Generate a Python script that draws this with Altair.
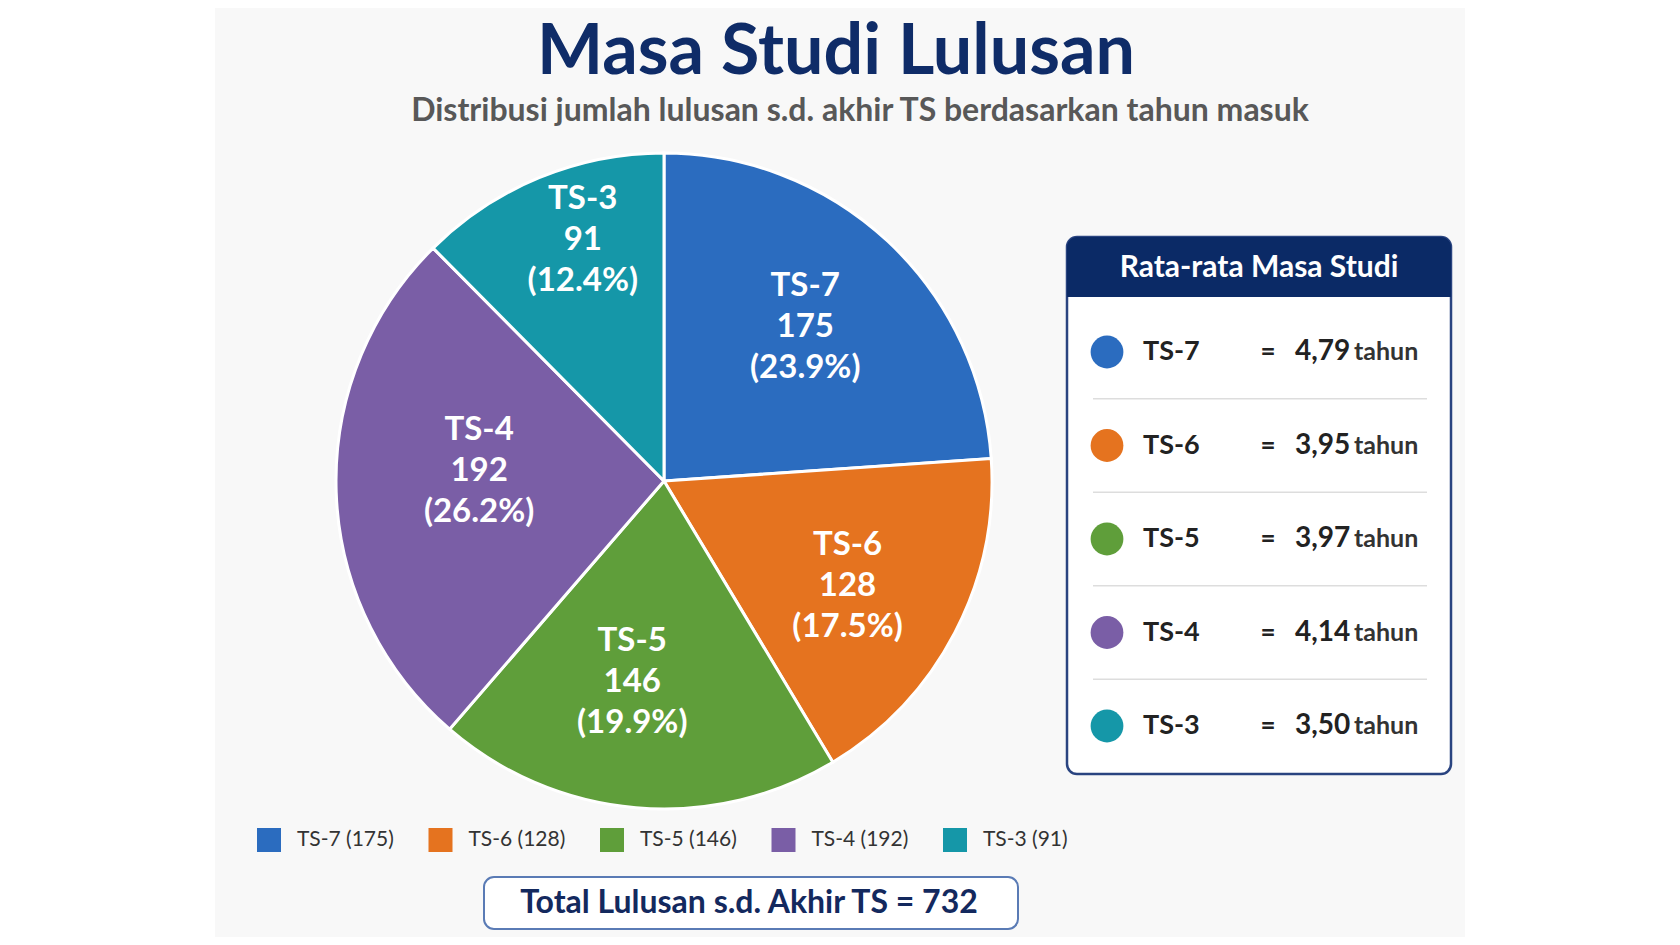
import altair as alt
import pandas as pd

# ---- data ----
cats = ["TS-7", "TS-6", "TS-5", "TS-4", "TS-3"]
counts = [175, 128, 146, 192, 91]
avg_years = [4.79, 3.95, 3.97, 4.14, 3.50]
colors = ["#2b6cbf", "#e5731f", "#5f9e3a", "#7a5ea6", "#1597a8"]

title_txt = "Masa Studi Lulusan"
subtitle_txt = "Distribusi jumlah lulusan s.d. akhir TS berdasarkan tahun masuk"
table_title = "Rata-rata Masa Studi"
unit_txt = "tahun"

total = sum(counts)
df = pd.DataFrame({
    "cat": cats,
    "n": counts,
    "idx": list(range(len(cats))),
    "avg": [f"{v:.2f}".replace(".", ",") for v in avg_years],
})
df["pct"] = [f"({100 * c / total:.1f}%)" for c in counts]
df["lbl"] = df["cat"] + "\n" + df["n"].astype(str) + "\n" + df["pct"]
df["leg"] = df["cat"] + " (" + df["n"].astype(str) + ")"
df["last"] = df["idx"] == len(cats) - 1

one = pd.DataFrame({"k": [0]})

W, H = 1664, 929
FONT = "Lato"
NAVY = "#0f2c68"

color = alt.Color("cat:N", scale=alt.Scale(domain=cats, range=colors), legend=None)
ypos = alt.Y("cat:N", scale=alt.Scale(type="point", domain=cats, range=[344, 718], padding=0), axis=None)
xpos = alt.X("cat:N", scale=alt.Scale(type="point", domain=cats, range=[261, 947], padding=0), axis=None)

base = alt.Chart(df)
deco = alt.Chart(one)

panel = deco.mark_rect(color="#f8f8f8").encode(
    x=alt.value(207), x2=alt.value(1457), y=alt.value(0), y2=alt.value(H))

title = deco.mark_text(text=title_txt, font=FONT, fontSize=70, fontWeight="bold",
                       color=NAVY, align="center", baseline="alphabetic").encode(
    x=alt.value(828), y=alt.value(66))
subtitle = deco.mark_text(text=subtitle_txt, font=FONT, fontSize=32, fontWeight="bold",
                          color="#585858", align="center", baseline="alphabetic").encode(
    x=alt.value(852), y=alt.value(113))

CX, CY = 656, 473
theta = alt.Theta("n:Q", stack=True)
order = alt.Order("idx:Q")
pie = base.mark_arc(outerRadius=328, stroke="white", strokeWidth=3).encode(
    theta=theta, color=color, order=order, x=alt.value(CX), y=alt.value(CY))

# label placement style per slice: (radius, dx, dy); the block is lifted one line
LINE = 41
label_place = {
    "TS-7": (207, 0, -3),
    "TS-6": (207, 0, 9),
    "TS-5": (207, -14, -5),
    "TS-4": (207, 22, -17),
    "TS-3": (258, 17, -2),
}
txt_style = dict(font=FONT, fontSize=33, fontWeight="bold", color="white",
                 lineBreak="\n", lineHeight=LINE, align="center", baseline="middle")
pie_txts = []
for c in cats:
    r, ddx, ddy = label_place[c]
    pie_txts.append(
        base.mark_text(radius=r, dx=ddx, dy=ddy - LINE, **txt_style).encode(
            theta=theta, order=order, text="lbl:N", x=alt.value(CX), y=alt.value(CY),
            opacity=alt.condition(f"datum.cat == '{c}'", alt.value(1), alt.value(0)))
    )

# ---- right table ----
BX0, BX1, BY0, BY1 = 1059, 1443, 229, 766
box = deco.mark_rect(fill="white", stroke="#2a4480", strokeWidth=2.5, cornerRadius=10).encode(
    x=alt.value(BX0), x2=alt.value(BX1), y=alt.value(BY0), y2=alt.value(BY1))
header = deco.mark_rect(fill="#0b2a66", cornerRadiusTopLeft=10, cornerRadiusTopRight=10).encode(
    x=alt.value(BX0), x2=alt.value(BX1), y=alt.value(BY0), y2=alt.value(289))
header_txt = deco.mark_text(text=table_title, font=FONT, fontSize=30, fontWeight="bold",
                            color="white", align="center", baseline="middle").encode(
    x=alt.value(1251), y=alt.value(260))

seps = base.transform_filter("!datum.last").mark_rule(
    color="#dddddd", strokeWidth=1.5, yOffset=46.75).encode(
    x=alt.value(1085), x2=alt.value(1419), y=ypos)
dots = base.mark_circle(size=1075, opacity=1).encode(x=alt.value(1099), y=ypos, color=color)
row_lbl = base.mark_text(font=FONT, fontSize=27, fontWeight="bold", color="#222222",
                         align="left", baseline="middle").encode(
    x=alt.value(1135), y=ypos, text="cat:N")
row_eq = base.mark_text(text="=", font=FONT, fontSize=26, fontWeight="bold", color="#222222",
                        align="center", baseline="middle").encode(x=alt.value(1260), y=ypos)
row_val = base.mark_text(font=FONT, fontSize=28, fontWeight="bold", color="#222222",
                         align="left", baseline="middle").encode(
    x=alt.value(1287), y=ypos, text="avg:N")
row_unit = base.mark_text(text=unit_txt, font=FONT, fontSize=25, fontWeight="bold", color="#333333",
                          align="left", baseline="middle").encode(x=alt.value(1346), y=ypos)

# ---- bottom legend ----
leg_sq = base.mark_square(size=576, opacity=1).encode(x=xpos, y=alt.value(832), color=color)
leg_txt = base.mark_text(font=FONT, fontSize=21, color="#333333", align="left",
                         baseline="middle", dx=28).encode(x=xpos, y=alt.value(832), text="leg:N")

# ---- total box ----
tot_box = deco.mark_rect(fill="white", stroke="#5a7bb5", strokeWidth=2, cornerRadius=10).encode(
    x=alt.value(476), x2=alt.value(1010), y=alt.value(869), y2=alt.value(921))
tot_txt = deco.mark_text(text=f"Total Lulusan s.d. Akhir TS = {total}", font=FONT, fontSize=32,
                         fontWeight="bold", color="#13295e", align="center", baseline="middle").encode(
    x=alt.value(741), y=alt.value(895))

chart = alt.layer(
    panel, title, subtitle, pie, *pie_txts,
    box, header, header_txt, seps, dots, row_lbl, row_eq, row_val, row_unit,
    leg_sq, leg_txt, tot_box, tot_txt,
).properties(
    width=W, height=H, padding=0, autosize="none", background="white"
).configure_view(stroke=None)

chart.save("out.html", embed_options={"renderer": "svg", "actions": False})
